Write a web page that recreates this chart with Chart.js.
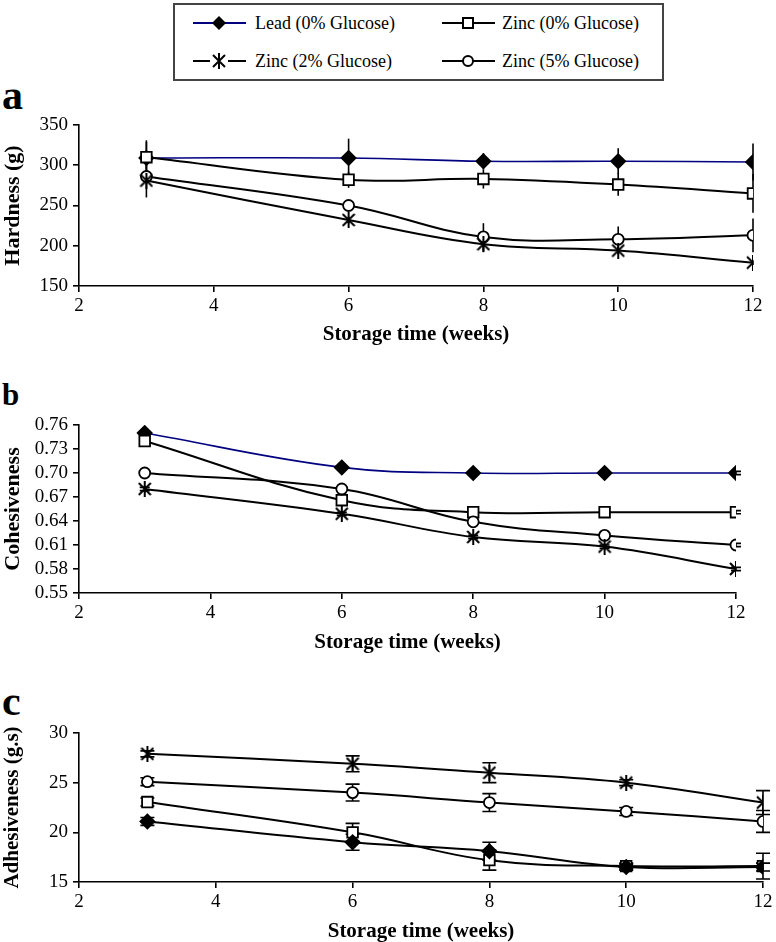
<!DOCTYPE html>
<html>
<head>
<meta charset="utf-8">
<script src="https://cdn.jsdelivr.net/npm/chart.js@4.4.0/dist/chart.umd.min.js"></script>
<style>
  body { margin: 0; width: 776px; height: 942px; background: #fff; position: relative; overflow: hidden; font-family: "Liberation Serif", serif; }
  .box { position: absolute; left: 173px; top: 3px; width: 487px; height: 74px; border: 2px solid #444; }
  .item { position: absolute; font-size: 18px; color: #000; white-space: nowrap; line-height: 20px; }
  .item svg { position: absolute; top: 0; }
  .letter { position: absolute; left: 2px; font-weight: bold; color: #000; line-height: 1; }
  .panel { position: absolute; left: 0; }
</style>
</head>
<body>
<div class="box"></div>
<div id="legend"></div>
<div class="letter" style="top:74px;font-size:42px">a</div>
<div class="letter" style="top:379px;font-size:31px">b</div>
<div class="letter" style="top:680px;font-size:42px">c</div>
<div class="panel" style="top:105px"><canvas id="chartA" width="776" height="245"></canvas></div>
<div class="panel" style="top:405px"><canvas id="chartB" width="776" height="252"></canvas></div>
<div class="panel" style="top:713px"><canvas id="chartC" width="776" height="229"></canvas></div>
<script>
// dati
const weeks = [3, 6, 8, 10, 12]
const seriesNames = ["Lead (0% Glucose)", "Zinc (0% Glucose)", "Zinc (2% Glucose)", "Zinc (5% Glucose)"]

// a - Hardness (g)
const hardLead = [309, 309, 305, 305, 304]
const hardLeadErr = [20, 24, 10, 16, 23]
const hardZinc0 = [310, 282, 283, 276, 265]
const hardZinc0Err = [21, 10, 12, 14, 24]
const hardZinc2 = [281, 232, 202, 194, 179]
const hardZinc2Err = [21, 4, 10, 4, 3]
const hardZinc5 = [286, 250, 211, 208, 213]
const hardZinc5Err = [4, 4, 17, 16, 21]
const hardTicks = [150, 200, 250, 300, 350]

// b - Cohesiveness
const cohLead = [0.75, 0.707, 0.70, 0.70, 0.70]
const cohZinc0 = [0.74, 0.666, 0.651, 0.651, 0.651]
const cohZinc2 = [0.68, 0.649, 0.62, 0.608, 0.58]
const cohZinc5 = [0.70, 0.68, 0.639, 0.622, 0.61]
const cohErr = [0.002, 0.002, 0.002, 0.002, 0.002]
const cohTicks = [0.55, 0.58, 0.61, 0.64, 0.67, 0.70, 0.73, 0.76]

// c - Adhesiveness (g.s)
const adhLead = [21.1, 19.0, 18.1, 16.5, 16.5]
const adhLeadErr = [0.4, 0.8, 0.9, 0.3, 0.4]
const adhZinc0 = [23.05, 20.0, 17.2, 16.6, 16.6]
const adhZinc0Err = [0.4, 0.9, 1.0, 0.3, 1.3]
const adhZinc2 = [27.9, 26.9, 26.0, 25.0, 23.0]
const adhZinc2Err = [0.3, 0.8, 1.0, 0.3, 1.2]
const adhZinc5 = [25.1, 24.0, 23.0, 22.1, 21.1]
const adhZinc5Err = [0.4, 0.85, 0.9, 0.4, 1.1]
const adhTicks = [15, 20, 25, 30]

const xTicks = [2, 4, 6, 8, 10, 12]
const navy = "#000080"
const serif = "'Liberation Serif', 'Times New Roman', serif"

//marker a stella (X con barra verticale)
function starMarker() {
  const c = document.createElement("canvas")
  c.width = 14
  c.height = 16
  const g = c.getContext("2d")
  g.strokeStyle = "#000"
  g.lineWidth = 2
  g.beginPath()
  g.moveTo(1, 2); g.lineTo(13, 14)
  g.moveTo(13, 2); g.lineTo(1, 14)
  g.moveTo(7, 0); g.lineTo(7, 16)
  g.stroke()
  return c
}
const star = starMarker()

// legenda in html
const legendSvg = [
  '<svg width="56" height="20"><line x1="1" y1="10" x2="54" y2="10" stroke="' + navy + '" stroke-width="2"/><polygon points="27,3 34,10 27,17 20,10" fill="#000"/></svg>',
  '<svg width="56" height="20"><line x1="1" y1="10" x2="54" y2="10" stroke="#000" stroke-width="2"/><rect x="22" y="5" width="10" height="10" fill="#fff" stroke="#000" stroke-width="2"/></svg>',
  '<svg width="56" height="20"><line x1="1" y1="10" x2="18" y2="10" stroke="#000" stroke-width="2"/><line x1="36" y1="10" x2="54" y2="10" stroke="#000" stroke-width="2"/><path d="M21 4 L33 16 M33 4 L21 16 M27 2 L27 18" stroke="#000" stroke-width="2"/></svg>',
  '<svg width="56" height="20"><line x1="1" y1="10" x2="54" y2="10" stroke="#000" stroke-width="2"/><circle cx="27" cy="10" r="5" fill="#fff" stroke="#000" stroke-width="2"/></svg>'
]
const legendPos = [[192, 13], [441, 13], [192, 51], [441, 51]]
let html = ""
seriesNames.forEach(function (name, i) {
  html += '<div class="item" style="left:' + legendPos[i][0] + 'px;top:' + legendPos[i][1] + 'px">' +
    legendSvg[i].replace("<svg", '<svg style="left:0"') +
    '<span style="position:absolute;left:' + (i % 2 ? 61 : 63) + 'px;top:0">' + name + "</span></div>"
})
document.getElementById("legend").innerHTML = html

//Plug in per le barre di errore
const errorBars = {
  id: "errorBars",
  beforeDatasetsDraw(chart, args, opts) {
    const { ctx } = chart
    const x = chart.scales.x
    const y = chart.scales.y
    ctx.save()
    ctx.strokeStyle = "#000"
    ctx.lineWidth = 1.6
    chart.data.datasets.forEach(function (ds) {
      if (!ds.errors) return
      ds.data.forEach(function (p, i) {
        const px = x.getPixelForValue(p.x)
        const top = y.getPixelForValue(p.y + ds.errors[i])
        const bot = y.getPixelForValue(p.y - ds.errors[i])
        ctx.beginPath()
        ctx.moveTo(px, top)
        ctx.lineTo(px, bot)
        if (opts.cap) {
          ctx.moveTo(px - opts.cap / 2, top)
          ctx.lineTo(px + opts.cap / 2, top)
          ctx.moveTo(px - opts.cap / 2, bot)
          ctx.lineTo(px + opts.cap / 2, bot)
        }
        ctx.stroke()
      })
    })
    ctx.restore()
  }
}

function points(values) {
  return values.map(function (v, i) { return { x: weeks[i], y: v } })
}

function makeSet(values, errors, kind, leadColor) {
  const base = {
    data: points(values),
    errors: errors,
    borderColor: "#000",
    borderWidth: 2,
    tension: 0.4,
    pointBorderColor: "#000",
    pointBorderWidth: 1.8,
    pointBackgroundColor: "#fff"
  }
  if (kind === "lead") {
    base.borderColor = leadColor
    base.borderWidth = leadColor === navy ? 1.6 : 2
    base.pointStyle = "rectRot"
    base.pointRadius = 7
    base.pointBackgroundColor = "#000"
  } else if (kind === "square") {
    base.pointStyle = "rect"
    base.pointRadius = 7.5
  } else if (kind === "star") {
    base.pointStyle = star
    base.pointRadius = 7
  } else {
    base.pointStyle = "circle"
    base.pointRadius = 5.5
  }
  return base
}

function makeChart(id, cfg) {
  return new Chart(document.getElementById(id), {
    type: "line",
    plugins: [errorBars],
    data: { datasets: cfg.datasets },
    options: {
      responsive: false,
      animation: false,
      events: [],
      layout: { padding: { top: 20, right: cfg.right, left: 0, bottom: 0 } },
      plugins: {
        legend: { display: false },
        tooltip: { enabled: false },
        errorBars: { cap: cfg.cap }
      },
      scales: {
        x: {
          type: "linear",
          min: 2,
          max: 12,
          afterBuildTicks(axis) { axis.ticks = xTicks.map(function (v) { return { value: v } }) },
          afterFit(scale) { scale.height = cfg.xHeight; scale.paddingLeft = 0; scale.paddingRight = 0 },
          border: { display: true, color: "#000", width: 1.6 },
          grid: { display: true, drawOnChartArea: false, drawTicks: true, tickLength: 6, color: "#000", lineWidth: 1.6 },
          ticks: { color: "#000", padding: 3, autoSkip: false, maxRotation: 0, font: { family: serif, size: 19 } },
          title: {
            display: true,
            text: "Storage time (weeks)",
            color: "#000",
            font: { family: serif, size: 21, weight: "bold", lineHeight: 1 },
            padding: { top: 0, bottom: cfg.titlePad }
          }
        },
        y: {
          min: cfg.yTicks[0],
          max: cfg.yTicks[cfg.yTicks.length - 1],
          afterBuildTicks(axis) { axis.ticks = cfg.yTicks.map(function (v) { return { value: v } }) },
          afterFit(scale) { scale.width = 79; scale.paddingTop = 0; scale.paddingBottom = 0 },
          border: { display: true, color: "#000", width: 1.6 },
          grid: { display: true, drawOnChartArea: false, drawTicks: true, tickLength: 6, color: "#000", lineWidth: 1.6 },
          ticks: {
            color: "#000",
            padding: 5,
            autoSkip: false,
            font: { family: serif, size: 19 },
            callback: cfg.fmt
          },
          title: {
            display: true,
            text: cfg.yTitle,
            color: "#000",
            font: { family: serif, size: cfg.yTitleSize, weight: "bold", lineHeight: 1 },
            padding: { top: 2, bottom: 0 }
          }
        }
      }
    }
  })
}

let chartA = makeChart("chartA", {
  right: 23, xHeight: 64, titlePad: 5, cap: 0, yTitle: "Hardness (g)", yTitleSize: 22, yTicks: hardTicks,
  fmt: function (v) { return v },
  datasets: [
    makeSet(hardZinc2, hardZinc2Err, "star"),
    makeSet(hardZinc5, hardZinc5Err, "circle"),
    makeSet(hardZinc0, hardZinc0Err, "square"),
    makeSet(hardLead, hardLeadErr, "lead", navy)
  ]
})

let chartB = makeChart("chartB", {
  right: 40, xHeight: 64, titlePad: 4, cap: 10, yTitle: "Cohesiveness", yTitleSize: 22, yTicks: cohTicks,
  fmt: function (v) { return v.toFixed(2) },
  datasets: [
    makeSet(cohZinc2, cohErr, "star"),
    makeSet(cohZinc5, cohErr, "circle"),
    makeSet(cohZinc0, cohErr, "square"),
    makeSet(cohLead, cohErr, "lead", navy)
  ]
})

let chartC = makeChart("chartC", {
  right: 13, xHeight: 60, titlePad: 0, cap: 14, yTitle: "Adhesiveness (g.s)", yTitleSize: 21, yTicks: adhTicks,
  fmt: function (v) { return v },
  datasets: [
    makeSet(adhLead, adhLeadErr, "lead", "#000"),
    makeSet(adhZinc0, adhZinc0Err, "square"),
    makeSet(adhZinc5, adhZinc5Err, "circle"),
    makeSet(adhZinc2, adhZinc2Err, "star")
  ]
})
</script>
</body>
</html>
